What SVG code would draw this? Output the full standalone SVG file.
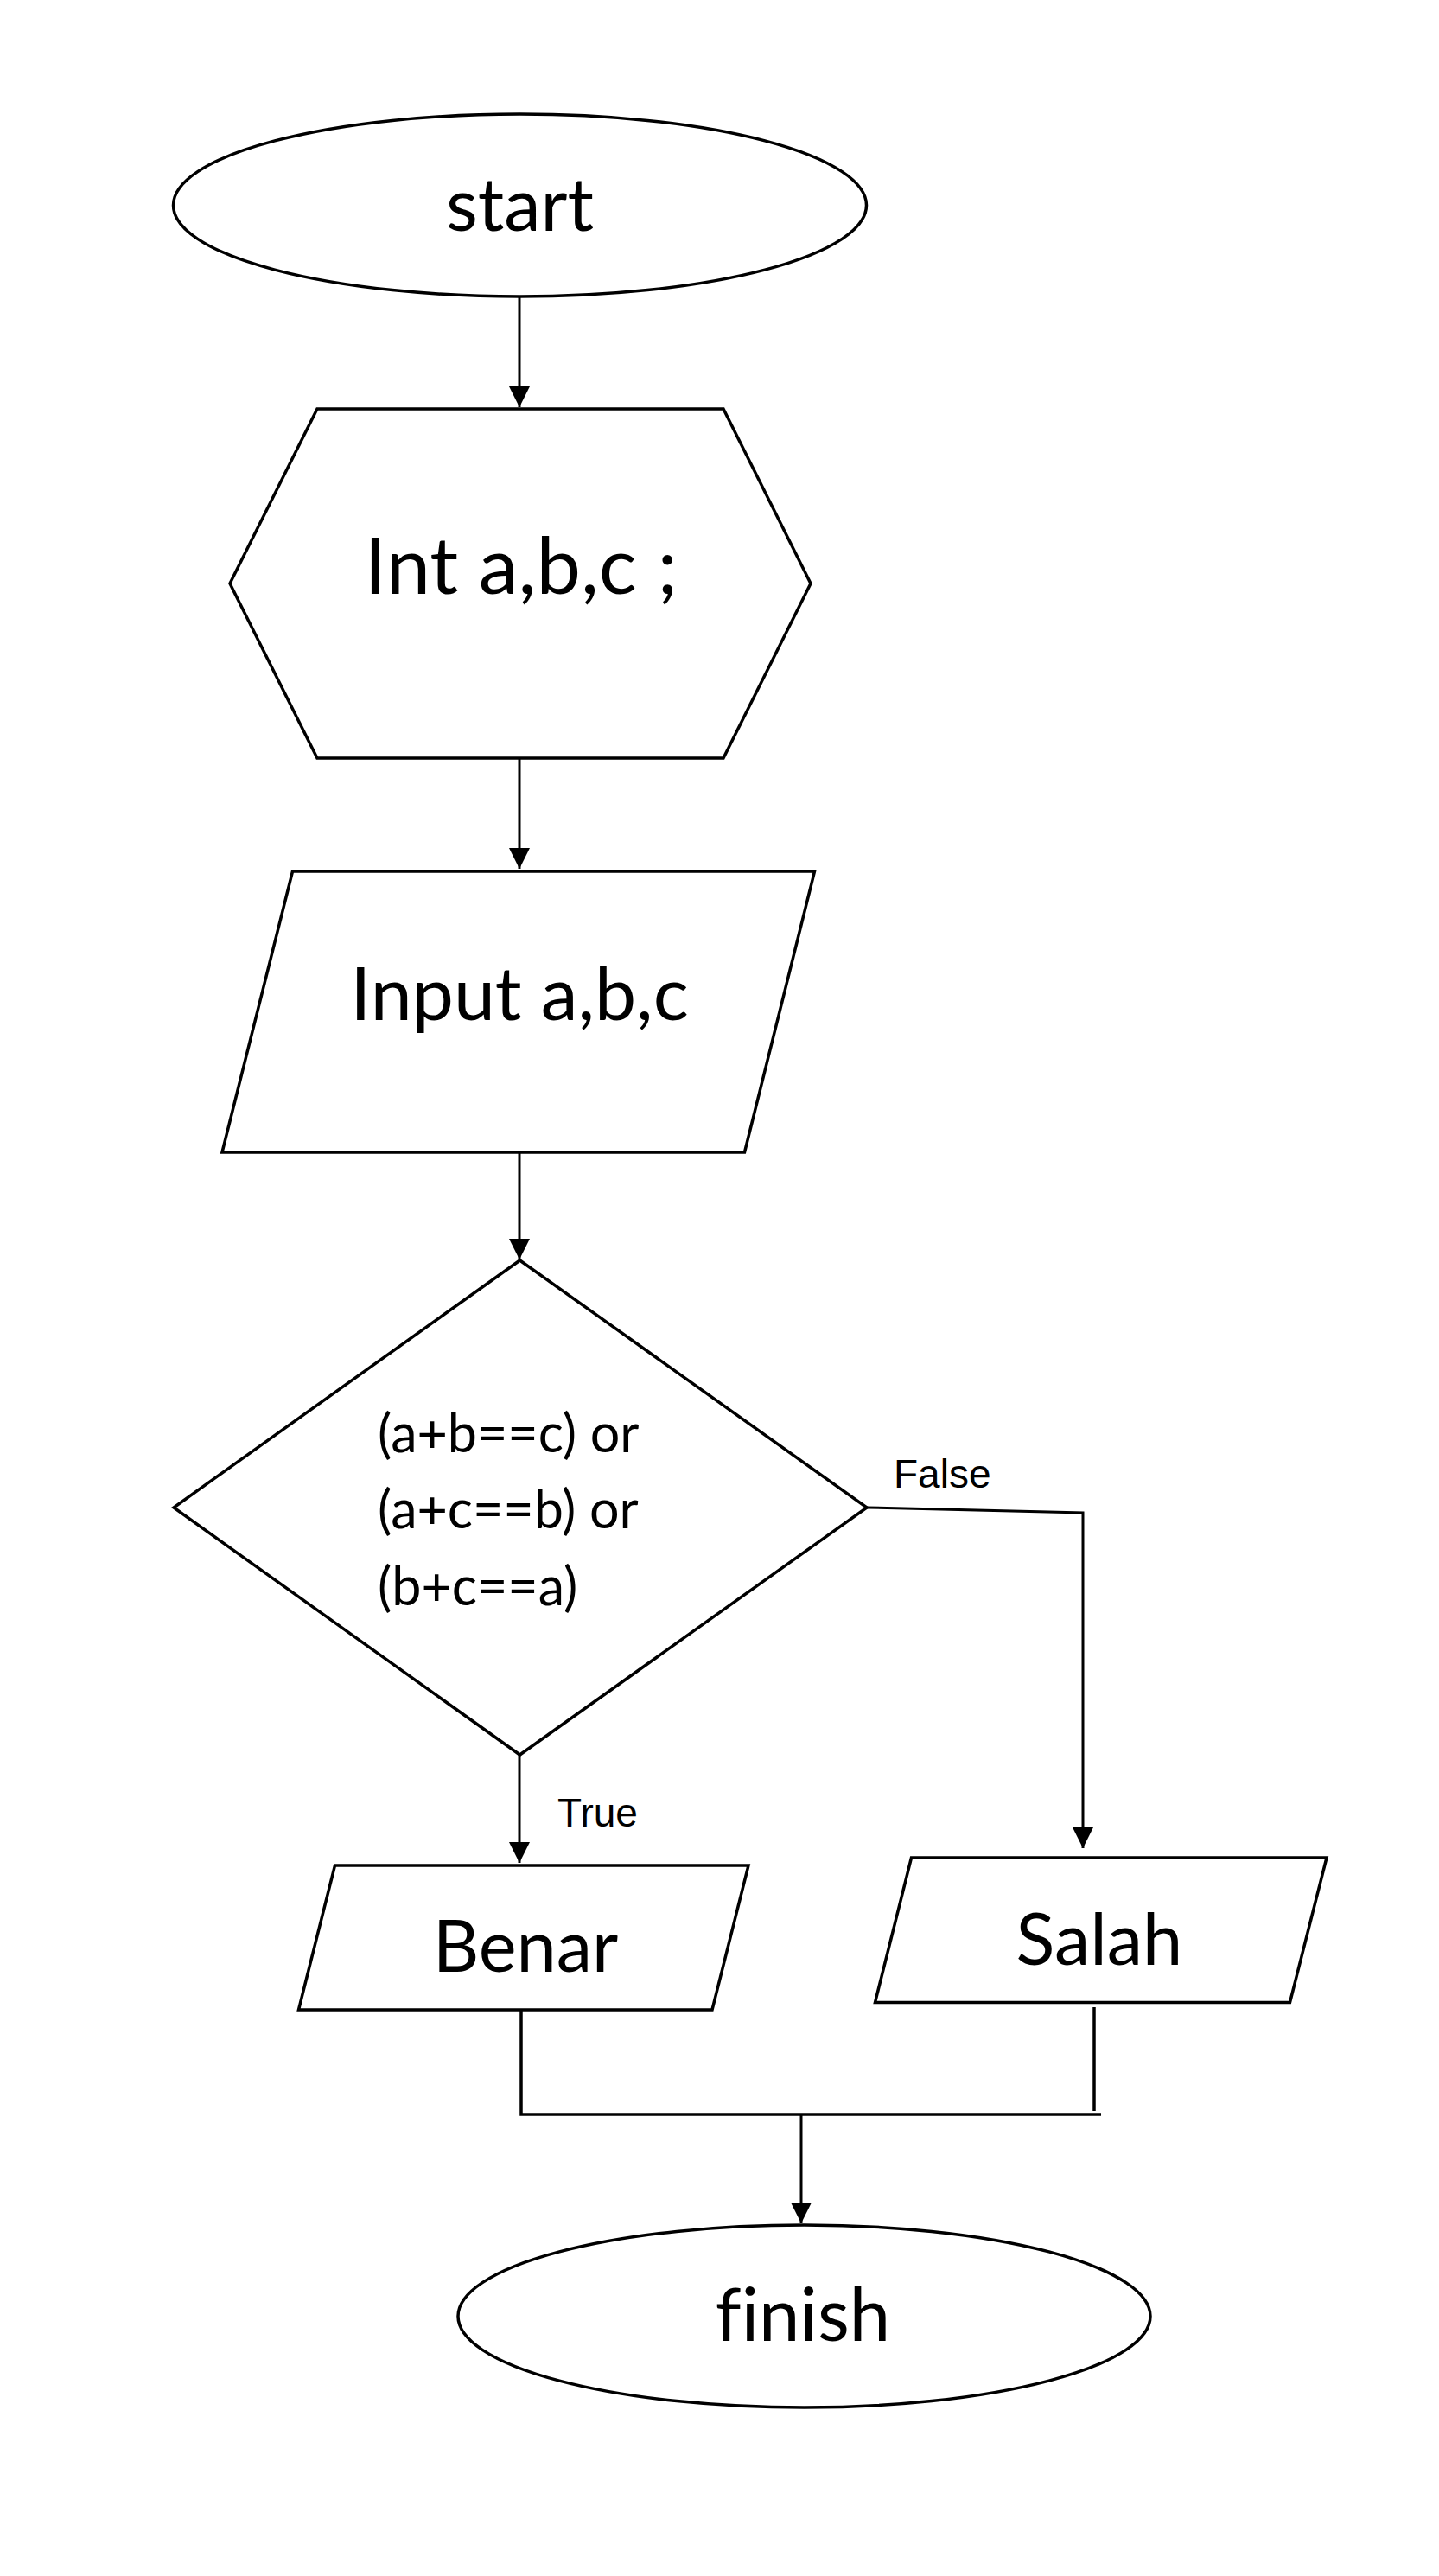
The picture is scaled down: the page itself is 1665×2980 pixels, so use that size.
<svg xmlns="http://www.w3.org/2000/svg" width="1665" height="2980" viewBox="0 0 1665 2980">
<defs>
<style>
.shape{fill:#fff;stroke:#000;stroke-width:3.5;stroke-linejoin:miter}
.conn{fill:none;stroke:#000;stroke-width:3}
.join{fill:none;stroke:#000;stroke-width:3.5}
.t{font-family:Lato,"Open Sans",sans-serif;fill:#000;font-variant-ligatures:none}
.lbl{font-family:"Liberation Sans",Arial,sans-serif;font-size:46px;fill:#000}
</style>
<marker id="arr" viewBox="0 0 24 24" markerUnits="userSpaceOnUse" markerWidth="24" markerHeight="24" refX="24" refY="12" orient="auto">
<path d="M0,0 L24,12 L0,24 z" fill="#000"/>
</marker>
</defs>
<rect width="1665" height="2980" fill="#fff"/>
<g id="connectors">
<path class="conn" d="M601,343 L601,471" marker-end="url(#arr)"/>
<path class="conn" d="M601,877 L601,1005" marker-end="url(#arr)"/>
<path class="conn" d="M601,1333 L601,1457" marker-end="url(#arr)"/>
<path class="conn" d="M601,2030 L601,2155" marker-end="url(#arr)"/>
<path class="conn" d="M1003,1744 L1253,1750 L1253,2138" marker-end="url(#arr)"/>
<path class="join" d="M603,2326 L603,2446 L1274,2446"/>
<path class="join" d="M1266,2322 L1266,2442"/>
<path class="conn" d="M927,2446 L927,2572" marker-end="url(#arr)"/>
<text class="lbl" x="1034" y="1721">False</text>
<text class="lbl" x="645" y="2113">True</text>
</g>
<g id="start">
<ellipse class="shape" cx="601.5" cy="237.5" rx="401" ry="105.5"/>
<text class="t" x="601.5" y="267" font-size="85" text-anchor="middle">start</text>
</g>
<g id="declare">
<polygon class="shape" points="367,473 837,473 938,675 837,877 367,877 266,675"/>
<text class="t" x="603" y="687" font-size="92" text-anchor="middle">Int a,b,c ;</text>
</g>
<g id="input">
<polygon class="shape" points="338.5,1008 942.5,1008 861.5,1333 257,1333"/>
<text class="t" x="601" y="1180" font-size="86" text-anchor="middle">Input a,b,c</text>
</g>
<g id="decision">
<polygon class="shape" points="601.5,1458 1003,1744 601.5,2030 201,1744"/>
<text class="t" x="437" y="1680" font-size="61">(a+b==c) or</text>
<text class="t" x="437" y="1768" font-size="61">(a+c==b) or</text>
<text class="t" x="437" y="1857" font-size="61">(b+c==a)</text>
</g>
<g id="benar">
<polygon class="shape" points="387.5,2158 866,2158 824,2325 345.5,2325"/>
<text class="t" x="608" y="2281" font-size="83" text-anchor="middle">Benar</text>
</g>
<g id="salah">
<polygon class="shape" points="1054.5,2149 1535,2149 1492.5,2316.5 1012.5,2316.5"/>
<text class="t" x="1272" y="2273" font-size="83" text-anchor="middle">Salah</text>
</g>
<g id="finish">
<ellipse class="shape" cx="930.5" cy="2679.5" rx="400.5" ry="105.5"/>
<text class="t" x="929" y="2708" font-size="85" text-anchor="middle">finish</text>
</g>
</svg>
